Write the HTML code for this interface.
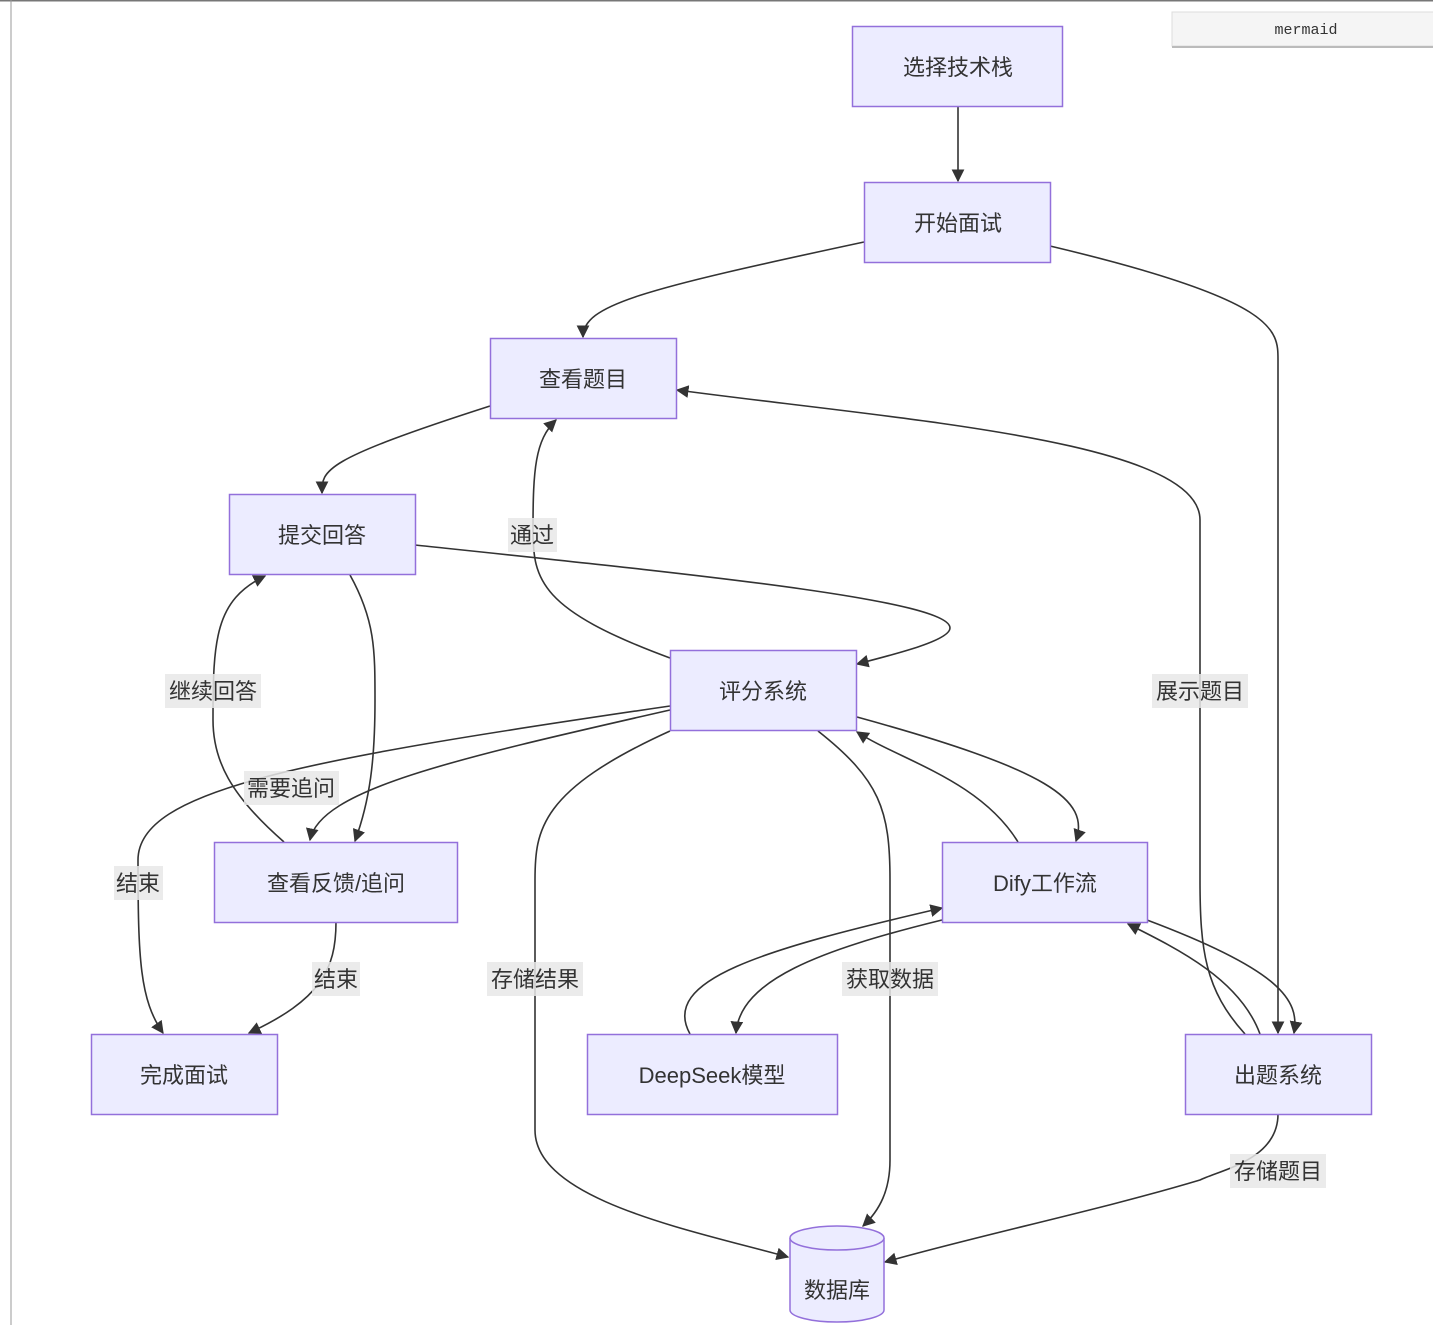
<!DOCTYPE html>
<html><head><meta charset="utf-8"><style>
html,body{margin:0;padding:0;background:#fff;width:1433px;height:1325px;overflow:hidden}
text{font-family:"Liberation Sans","Noto Sans CJK SC",sans-serif}
</style></head><body>
<svg width="1433" height="1325" viewBox="0 0 1433 1325" xmlns="http://www.w3.org/2000/svg">
<defs><marker id="a" viewBox="0 0 10 10" refX="9" refY="5" markerWidth="8" markerHeight="8" orient="auto"><path d="M0,0L10,5L0,10z" fill="#333"/></marker></defs>
<rect x="0" y="0" width="1433" height="1.5" fill="#777"/>
<rect x="10.5" y="0" width="1" height="1325" fill="#999"/>
<rect x="1172" y="12" width="270" height="34" fill="#f5f5f5" stroke="#ddd"/>
<line x1="1172" y1="47" x2="1433" y2="47" stroke="#bbb" stroke-width="2"/>
<text x="1306" y="34" font-size="15" text-anchor="middle" font-family="Liberation Mono,monospace" fill="#333" style="font-family:'Liberation Mono',monospace">mermaid</text>
<g fill="none" stroke="#333" stroke-width="1.6" marker-end="url(#a)">
<path d="M958,106 L958,181"/>
<path d="M864,242 C640,290 583,305 583,337"/>
<path d="M1050,246 C1278,300 1278,330 1278,360 L1278,1033"/>
<path d="M490,406 C322,460 322,470 322,493"/>
<path d="M415,545 C700,575 950,600 950,628 C950,640 900,653 857,664"/>
<path d="M670,658 C540,610 533,580 533,530 C533,470 535,440 556,420"/>
<path d="M1245,1034 C1205,990 1200,950 1200,880 L1200,520 C1200,440 900,420 677,390"/>
<path d="M350,575 C375,620 375,650 375,700 C375,760 370,800 355,841"/>
<path d="M284,842 C230,795 213,760 213,720 C213,640 215,600 265,576"/>
<path d="M670,710 C450,760 320,790 310,840"/>
<path d="M670,706 C300,760 138,790 138,860 C138,960 140,1000 163,1033"/>
<path d="M336,922 C336,970 320,1000 249,1033"/>
<path d="M670,731 C540,790 535,830 535,880 L535,1130 C535,1200 690,1230 788,1257"/>
<path d="M818,731 C880,780 890,810 890,880 L890,1160 C890,1190 880,1210 863,1226"/>
<path d="M857,717 C1050,770 1090,800 1076,841"/>
<path d="M1018,842 C980,780 900,760 857,732"/>
<path d="M942,920 C820,950 740,980 736,1033"/>
<path d="M690,1034 C660,980 760,950 942,908"/>
<path d="M1147,920 C1280,970 1300,1000 1294,1033"/>
<path d="M1260,1034 C1240,980 1180,950 1128,924"/>
<path d="M1278,1114 C1278,1160 1220,1170 1200,1180 C1100,1210 980,1235 885,1262"/>
</g>
<g fill="#ececff" stroke="#9370db" stroke-width="1.5">
<rect x="852.5" y="26.5" width="210" height="80"/>
<rect x="864.5" y="182.5" width="186" height="80"/>
<rect x="490.5" y="338.5" width="186" height="80"/>
<rect x="229.5" y="494.5" width="186" height="80"/>
<rect x="670.5" y="650.5" width="186" height="80"/>
<rect x="214.5" y="842.5" width="243" height="80"/>
<rect x="942.5" y="842.5" width="205" height="80"/>
<rect x="91.5" y="1034.5" width="186" height="80"/>
<rect x="587.5" y="1034.5" width="250" height="80"/>
<rect x="1185.5" y="1034.5" width="186" height="80"/>
<path d="M790,1238 A47,12 0 0 1 884,1238 L884,1310 A47,12 0 0 1 790,1310 Z"/>
<path d="M790,1238 A47,12 0 0 0 884,1238"/>
</g>
<g font-size="22" fill="#333" text-anchor="middle">
<text x="958" y="75">选择技术栈</text>
<text x="958" y="231">开始面试</text>
<text x="583" y="387">查看题目</text>
<text x="322" y="543">提交回答</text>
<text x="763" y="699">评分系统</text>
<text x="336" y="891">查看反馈/追问</text>
<text x="1045" y="891">Dify工作流</text>
<text x="184" y="1083">完成面试</text>
<text x="712" y="1083">DeepSeek模型</text>
<text x="1278" y="1083">出题系统</text>
<text x="837" y="1298">数据库</text>
</g>
<g fill="rgba(232,232,232,0.85)">
<rect x="508" y="518" width="49" height="34"/>
<rect x="165" y="674" width="96" height="34"/>
<rect x="244" y="771" width="95" height="34"/>
<rect x="114" y="866" width="49" height="34"/>
<rect x="312" y="962" width="48" height="34"/>
<rect x="487" y="962" width="96" height="34"/>
<rect x="842" y="962" width="96" height="34"/>
<rect x="1152" y="674" width="96" height="34"/>
<rect x="1230" y="1154" width="96" height="34"/>
</g>
<g font-size="22" fill="#333" text-anchor="middle">
<text x="532" y="543">通过</text>
<text x="213" y="699">继续回答</text>
<text x="291" y="796">需要追问</text>
<text x="138" y="891">结束</text>
<text x="336" y="987">结束</text>
<text x="535" y="987">存储结果</text>
<text x="890" y="987">获取数据</text>
<text x="1200" y="699">展示题目</text>
<text x="1278" y="1179">存储题目</text>
</g>
</svg>
</body></html>
